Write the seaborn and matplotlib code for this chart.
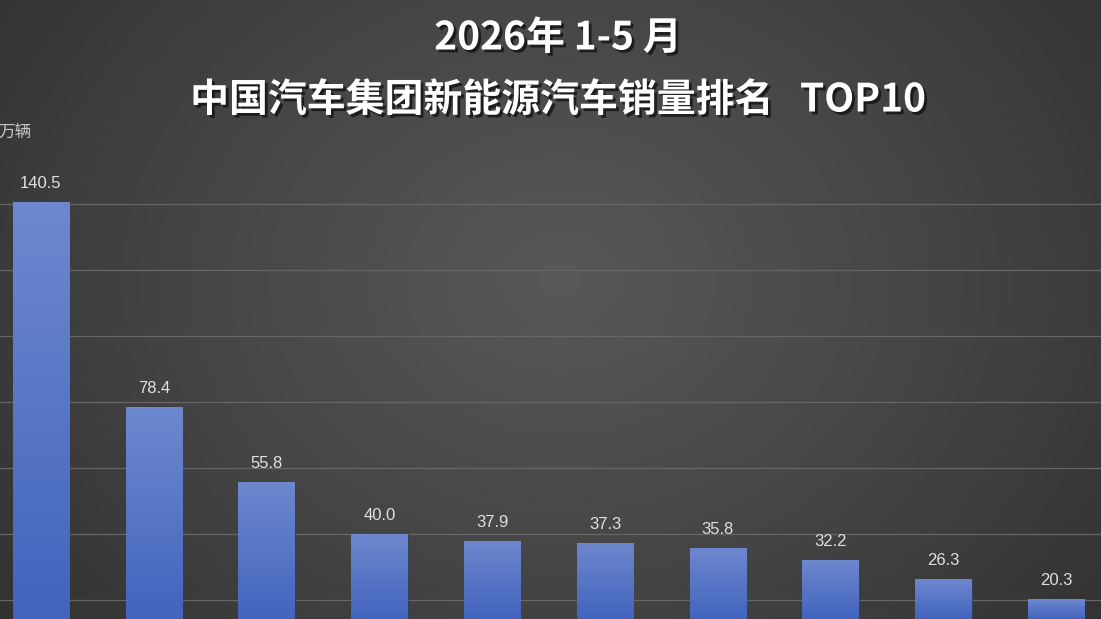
import numpy as np
import pandas as pd
import matplotlib
matplotlib.use("Agg")
import matplotlib.pyplot as plt
import matplotlib.patheffects as pe
from matplotlib.colors import LinearSegmentedColormap
import seaborn as sns

# ---- data ----
ranks = ["1", "2", "3", "4", "5", "6", "7", "8", "9", "10"]
sales = [140.5, 78.4, 55.8, 40.0, 37.9, 37.3, 35.8, 32.2, 26.3, 20.3]
value_labels = ["140.5", "78.4", "55.8", "40.0", "37.9", "37.3", "35.8", "32.2", "26.3", "20.3"]
yticks = [0, 20, 40, 60, 80, 100, 120, 140]
title_line1 = "2026年 1-5 月"
title_line2 = "中国汽车集团新能源汽车销量排名   TOP10"
unit_label = "万辆"

sns.set_theme(style="dark")
plt.rcParams['font.family'] = ['Noto Sans CJK SC', 'DejaVu Sans']

W, H = 1101, 619
fig = plt.figure(figsize=(W / 100, H / 100), dpi=100)

# radial gradient background
bg = fig.add_axes([0, 0, 1, 1], zorder=0)
yy, xx = np.mgrid[0:H, 0:W]
cx, cy = 560, 280
r = np.sqrt(((xx - cx) / 700.0) ** 2 + ((yy - cy) / 560.0) ** 2)
r = np.clip(r, 0, 1)
bg_cmap = LinearSegmentedColormap.from_list("bg", ["#585858", "#464646", "#323232"])
bg.imshow(r, cmap=bg_cmap, aspect="auto", extent=[0, W, H, 0], vmin=0, vmax=1)
bg.set_axis_off()

# main axes
top_px = 150
ax = fig.add_axes([0, 0, 1, (H - top_px) / H], zorder=1)
ax.patch.set_alpha(0)
df = pd.DataFrame({"rank": ranks, "sales": sales})
sns.barplot(data=df, x="rank", y="sales", ax=ax, width=0.5, color="#5677c9",
            edgecolor="#2f3b55", linewidth=0.6, zorder=3)

px_per_unit = 3.3
zero_px = 666
y_bottom = (zero_px - H) / px_per_unit
y_top = (zero_px - top_px) / px_per_unit

ax.set_yticks(yticks)

# gradient fill for bars
bar_cmap = LinearSegmentedColormap.from_list("bar", ["#4264bd", "#6e88cf"])
grad = np.linspace(0, 1, 256).reshape(-1, 1)
for p in list(ax.patches):
    x0, y0 = p.get_x(), p.get_y()
    w, h = p.get_width(), p.get_height()
    im = ax.imshow(grad, cmap=bar_cmap, aspect="auto", origin="lower",
                   extent=[x0, x0 + w, y_bottom, y0 + h], zorder=3.5)
    im.set_clip_path(p)

ax.set_xlim(-0.363, 9.397)
ax.set_ylim(y_bottom, y_top)

ax.yaxis.grid(True, color="#666666", linewidth=0.9)
ax.xaxis.grid(False)
ax.set_axisbelow(True)
ax.tick_params(left=False, bottom=False, labelleft=False, labelbottom=False)
ax.set_xlabel("")
ax.set_ylabel("")
for s in ax.spines.values():
    s.set_visible(False)

# value labels
for i, (v, lab) in enumerate(zip(sales, value_labels)):
    ax.annotate(lab, (i, v), xytext=(0, 8), textcoords="offset points",
                ha="center", va="bottom", fontsize=12, color="#e0e0e0",
                family=["Liberation Sans", "DejaVu Sans"], zorder=5)

shadow = [pe.withSimplePatchShadow(offset=(2, -2), shadow_rgbFace="black", alpha=0.6)]
fig.text(558 / W, 1 - 38 / H, title_line1, ha="center", va="center",
         fontsize=28, fontweight="bold", color="white", path_effects=shadow, zorder=10)
fig.text(558 / W, 1 - 100 / H, title_line2, ha="center", va="center",
         fontsize=28, fontweight="bold", color="white", path_effects=shadow, zorder=10)
fig.text(-2 / W, 1 - 132 / H, unit_label, ha="left", va="center",
         fontsize=12, color="#c8c8c8", zorder=10)

fig.savefig("out.png", dpi=100)
